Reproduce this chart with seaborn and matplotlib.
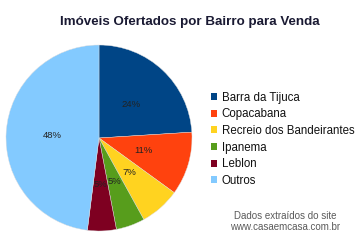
import matplotlib
matplotlib.use("Agg")
import matplotlib.pyplot as plt
import seaborn as sns
from matplotlib.patches import Patch

sns.set_theme(style="white")
plt.rcParams['font.family'] = ['Liberation Sans', 'DejaVu Sans']

categories = ["Barra da Tijuca", "Copacabana", "Recreio dos Bandeirantes",
              "Ipanema", "Leblon", "Outros"]
values = [24, 11, 7, 5, 5, 48]
colors = sns.color_palette(["#004586", "#ff420e", "#ffd320",
                            "#579d1c", "#7e0021", "#83caff"])

title = "Imóveis Ofertados por Bairro para Venda"
footer = ["Dados extraídos do site", "www.casaemcasa.com.br"]

fig = plt.figure(figsize=(3.6, 2.45), dpi=100)
fig.patch.set_facecolor("white")

ax = fig.add_axes([6/360, 14/245, 186/360, 186/245])
wedges, texts, autotexts = ax.pie(
    values, colors=colors, startangle=90, counterclock=False,
    autopct=lambda p: f"{p:.0f}%", pctdistance=0.5,
    wedgeprops=dict(linewidth=0.3, edgecolor="#dddddd"),
    textprops=dict(fontsize=6.8, color="#222222"))
ax.set_aspect("equal")
ax.set_xlim(-1, 1)
ax.set_ylim(-1, 1)
ax.axis("off")

fig.text(190/360, 1 - 22/245, title, ha="center", va="center",
         fontsize=9.6, fontweight="bold", color="#1a1a33")

handles = [Patch(facecolor=c, edgecolor="none") for c in colors]
fig.legend(handles, categories, loc="upper left",
           bbox_to_anchor=(205/360, 1 - 86/245), frameon=False,
           fontsize=8.3, handlelength=0.55, handleheight=0.55,
           handletextpad=0.4, labelspacing=0.40, borderpad=0,
           labelcolor="#111111")

fig.text(285/360, 1 - 216/245, footer[0], ha="center", va="center",
         fontsize=7, color="#5a5a5a")
fig.text(285/360, 1 - 227/245, footer[1], ha="center", va="center",
         fontsize=7, color="#5a5a5a")

fig.savefig("out.png", dpi=100, facecolor="white")
